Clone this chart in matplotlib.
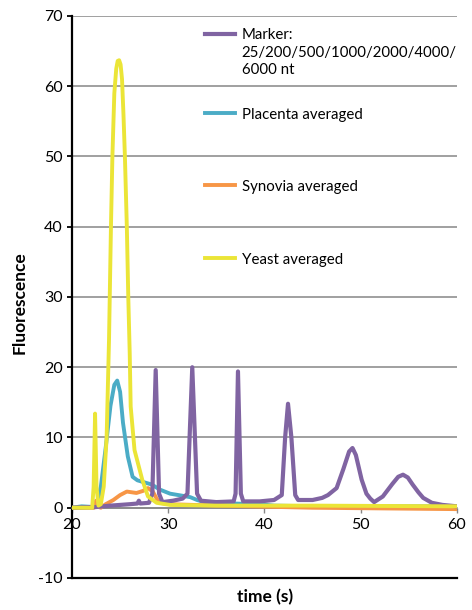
import matplotlib
matplotlib.use("Agg")
from matplotlib import pyplot as plt
from matplotlib.legend import Legend

plt.rcParams['font.family'] = ['Lato', 'DejaVu Sans']
plt.rcParams['axes.unicode_minus'] = False

# traces (time in s, fluorescence)
marker_t = [20, 22.5, 24, 26, 26.8, 26.95, 27.1, 28.0, 28.35, 28.7, 29.05, 29.4, 30.5, 31.5,
            32.0, 32.5, 33.0, 33.4, 35, 36.8, 37.0, 37.25, 37.55, 37.8, 39.5, 41, 41.8, 42.15,
            42.45, 42.8, 43.2, 43.5, 45, 46, 46.6, 47.5, 48.2, 48.8, 49.15, 49.5, 50.1, 50.6,
            51.0, 51.4, 52.3, 53.3, 53.9, 54.4, 54.9, 55.4, 56.0, 56.5, 57.4, 58.5, 60]
marker_y = [0.0, 0.1, 0.3, 0.5, 0.6, 1.0, 0.6, 0.7, 2.0, 19.6, 2.0, 0.8, 1.0, 1.3,
            2.0, 20.0, 2.0, 1.0, 0.8, 0.9, 2.0, 19.4, 2.0, 0.9, 0.9, 1.1, 1.8, 10.0,
            14.8, 10.0, 1.8, 1.1, 1.1, 1.4, 1.8, 2.8, 5.5, 8.0, 8.5, 7.5, 4.0, 2.0,
            1.3, 0.8, 1.6, 3.4, 4.4, 4.7, 4.3, 3.3, 2.2, 1.4, 0.7, 0.4, 0.2]

placenta_t = [20, 21, 22.3, 22.6, 23.0, 23.5, 24.0, 24.4, 24.7, 25.0, 25.3, 25.8, 26.3, 26.8,
              27.3, 28.3, 29.1, 30.2, 31.5, 32.3, 33.0, 34.0, 36.7, 39.5, 41, 45, 60]
placenta_y = [0, 0.2, 0.1, 0.5, 3.0, 8.5, 14.5, 17.5, 18.1, 16.5, 12.1, 7.3, 4.4, 3.9,
              3.7, 3.3, 2.6, 2.0, 1.7, 1.5, 1.1, 0.7, 0.6, 0.5, 0.3, 0.2, 0.2]

synovia_t = [20, 22.3, 22.5, 22.8, 23.0, 23.5, 24.3, 25.0, 25.7, 26.7, 27.4, 27.9, 28.4,
             28.8, 29.1, 30.2, 35, 45, 60]
synovia_y = [0, 0, 1.0, 0.1, 0.0, 0.5, 1.1, 1.8, 2.3, 2.1, 2.4, 2.8, 2.3,
             1.3, 0.7, 0.5, 0.3, 0.0, -0.2]

yeast_t = [20, 22.1, 22.25, 22.4, 22.55, 22.75, 23.0, 23.3, 23.6, 23.85, 24.05, 24.2, 24.4,
           24.6, 24.75, 24.9, 25.05, 25.2, 25.35, 25.5, 25.7, 25.85, 26.0, 26.1, 26.5, 27.3,
           27.9, 28.8, 30.2, 35, 45, 60]
yeast_y = [0, 0, 3, 13.4, 3, 0.3, 0.5, 3, 10, 24, 40, 50, 59,
           62.5, 63.6, 63.7, 63.1, 61, 56, 50, 40, 30, 22, 14.4, 8.2, 4.0,
           1.6, 0.7, 0.4, 0.3, 0.3, 0.2]

labels = ["Marker:\n25/200/500/1000/2000/4000/\n6000 nt", "Placenta averaged",
          "Synovia averaged", "Yeast averaged"]
colors = ['#8064A2', '#4BACC6', '#F79646', '#EBE537']

fig = plt.figure(figsize=(4.72, 6.10), dpi=100)
ax = fig.add_axes([0.1525, 0.0525, 0.8155, 0.9213])

h_pla, = ax.plot(placenta_t, placenta_y, color=colors[1], lw=2.8, zorder=3)
h_syn, = ax.plot(synovia_t, synovia_y, color=colors[2], lw=2.8, zorder=4)
h_mar, = ax.plot(marker_t, marker_y, color=colors[0], lw=3.0, zorder=5)
h_yea, = ax.plot(yeast_t, yeast_y, color=colors[3], lw=2.8, zorder=6)

ax.set_xlim(20, 60)
ax.set_ylim(-10, 70)
ax.set_xticks([20, 30, 40, 50, 60])
ax.set_yticks(range(-10, 71, 10))
for v in range(0, 71, 10):
    ax.axhline(v, color='#868686', lw=1.1, zorder=1)

ax.spines['top'].set_visible(False)
ax.spines['right'].set_visible(False)
ax.spines['bottom'].set_position(('data', 0))
ax.spines['bottom'].set_color('#868686')
ax.spines['bottom'].set_linewidth(1.1)
ax.spines['left'].set_linewidth(1.6)
ax.axhline(-10, color='black', lw=1.6, zorder=7, clip_on=False)

ax.tick_params(axis='x', colors='#868686', length=3.5, width=1, pad=4,
               labelcolor='black', labelsize=11.5)
ax.tick_params(axis='y', length=3.5, width=1.3, pad=3, labelsize=11.5)

ax.set_xlabel("time (s)", fontsize=12.5, fontweight='bold')
ax.set_ylabel("Fluorescence", fontsize=12.5, fontweight='bold')
ax.xaxis.set_label_coords(0.501, -0.02)
ax.yaxis.set_label_coords(-0.115, 0.49)

# one legend per entry, placed like the original
entries = [(h_mar, labels[0], 'upper left', 0.978),
           (h_pla, labels[1], 'center left', 0.824),
           (h_syn, labels[2], 'center left', 0.696),
           (h_yea, labels[3], 'center left', 0.566)]
for h, lab, loc, yy in entries:
    leg = Legend(ax, [h], [lab], loc=loc, bbox_to_anchor=(0.345, yy), frameon=False,
                 prop={'family': ['Lato', 'DejaVu Sans'], 'size': 10.8},
                 handlelength=2.0, handletextpad=0.45,
                 borderpad=0, borderaxespad=0)
    for col in leg._legend_handle_box.get_children():
        for item in col.get_children():
            item.align = 'top'
    for t in leg.get_texts():
        t.set_linespacing(1.3)
    ax.add_artist(leg)

fig.savefig("out.png", dpi=100)
